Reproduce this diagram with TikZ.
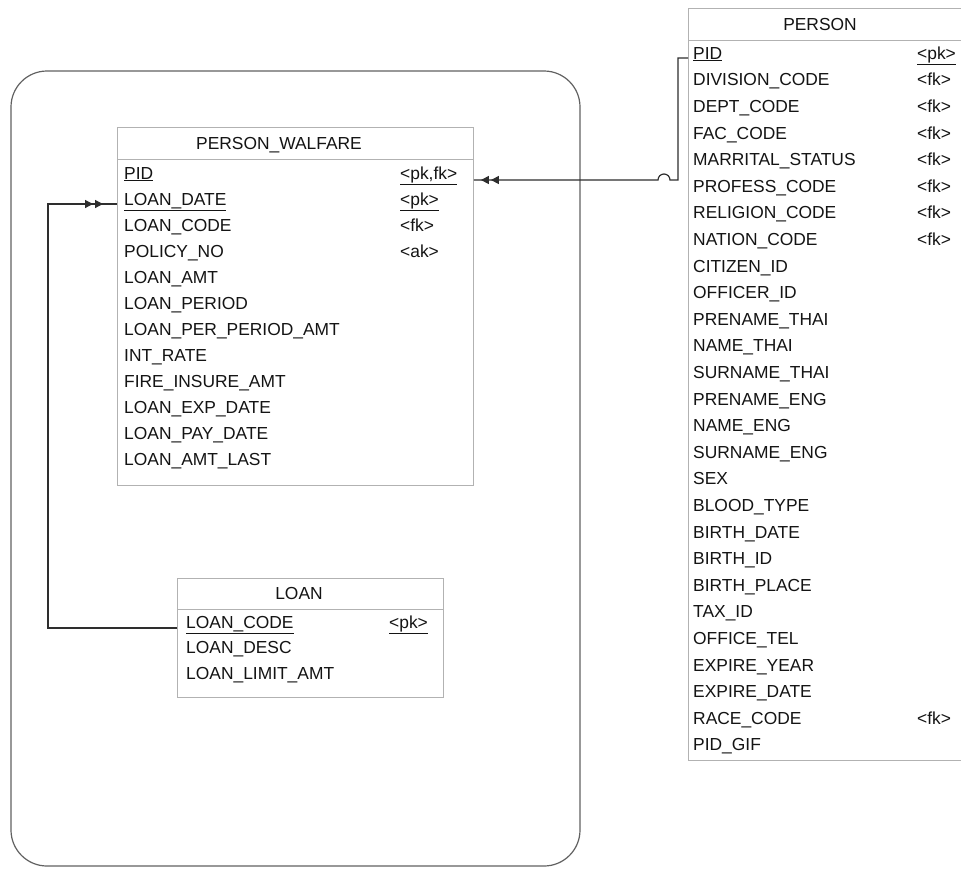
\documentclass[tikz,border=0pt]{standalone}
\usepackage{fontspec}
\setmainfont{Liberation Sans}
\usetikzlibrary{arrows.meta,decorations.markings}
\begin{document}
\begin{tikzpicture}[x=1pt,y=-1pt,
  tbl/.style={draw=black!30, line width=0.9pt, fill=white, inner sep=0pt, anchor=north west},
  tblline/.style={draw=black!30, line width=0.9pt},
  fld/.style={anchor=west, inner sep=0pt, text height=12.4pt, text depth=0pt,
              font=\fontsize{17.4}{20}\selectfont, text=black!92},
  hdr/.style={fld, anchor=center},
  conn/.style={draw=black!82, line width=1.2pt},
  frame/.style={draw=black!62, line width=1.2pt, rounded corners=36pt},
  twotips/.style={postaction={decorate}, decoration={markings,
     mark=at position -#1 with {\arrow{Triangle[length=8pt,width=8pt]}},
     mark=at position -(#1+10pt) with {\arrow{Triangle[length=8pt,width=8pt]}}}}
]
\useasboundingbox (0,0) rectangle (961,868);
\clip (0,0) rectangle (961,868);
\fill[white] (0,0) rectangle (961,868);

% package frame
\draw[frame] (11,71) rectangle (580,866);

% ---------- PERSON_WALFARE ----------
\node[tbl, minimum width=356pt, minimum height=358pt] (pw) at (117,127) {};
\draw[tblline] (117,159) -- (473,159);
\node[hdr] (pwh) at (279,143) {PERSON\_WALFARE};
\foreach \t [count=\i from 0] in {PID,LOAN\_DATE,LOAN\_CODE,POLICY\_NO,LOAN\_AMT,LOAN\_PERIOD,
  LOAN\_PER\_PERIOD\_AMT,INT\_RATE,FIRE\_INSURE\_AMT,LOAN\_EXP\_DATE,LOAN\_PAY\_DATE,LOAN\_AMT\_LAST}
  {\node[fld] (pwr\i) at (124,173+26*\i) {\ifnum\i<2 \underline{\t}\else\t\fi};}
\node[fld] (pwk0) at (400,173) {\underline{<pk,fk>}};
\node[fld] (pwk1) at (400,199) {\underline{<pk>}};
\node[fld] (pwk2) at (400,225) {<fk>};
\node[fld] (pwk3) at (400,251) {<ak>};

% ---------- LOAN ----------
\node[tbl, minimum width=266pt, minimum height=119pt] (loan) at (177,578) {};
\draw[tblline] (177,609) -- (443,609);
\node[hdr] (loanh) at (299,593) {LOAN};
\node[fld] (lr0) at (186,622) {\underline{LOAN\_CODE}};
\node[fld] (lr1) at (186,647.5) {LOAN\_DESC};
\node[fld] (lr2) at (186,673) {LOAN\_LIMIT\_AMT};
\node[fld] (lk0) at (389,622) {\underline{<pk>}};

% ---------- PERSON ----------
\node[tbl, minimum width=300pt, minimum height=752pt] (person) at (688,8) {};
\draw[tblline] (688,40) -- (988,40);
\node[hdr] (ph) at (820,24) {PERSON};
\foreach \t [count=\i from 0] in {PID,DIVISION\_CODE,DEPT\_CODE,FAC\_CODE,MARRITAL\_STATUS,
  PROFESS\_CODE,RELIGION\_CODE,NATION\_CODE,CITIZEN\_ID,OFFICER\_ID,PRENAME\_THAI,NAME\_THAI,
  SURNAME\_THAI,PRENAME\_ENG,NAME\_ENG,SURNAME\_ENG,SEX,BLOOD\_TYPE,BIRTH\_DATE,BIRTH\_ID,
  BIRTH\_PLACE,TAX\_ID,OFFICE\_TEL,EXPIRE\_YEAR,EXPIRE\_DATE,RACE\_CODE,PID\_GIF}
  {\node[fld] (pr\i) at (693,53+26.6*\i) {\ifnum\i=0 \underline{\t}\else\t\fi};}
\node[fld] (pk0) at (917,53) {\underline{<pk>}};
\foreach \i in {1,...,7}
  {\node[fld] (pk\i) at (917,53+26.6*\i) {<fk>};}
\node[fld] (pk25) at (917,53+26.6*25) {<fk>};

% ---------- connectors ----------
\coordinate (ljoin) at (48,628);
\coordinate (ltop) at (48,204);
\draw[conn, twotips=14pt] (loan.west |- ljoin) -- (ljoin) -- (ltop) -- (pw.west |- ltop);

\coordinate (rtop) at (678,58);
\coordinate (rbot) at (678,180);
\draw[conn, twotips=7pt] (person.west |- rtop) -- (rtop) -- (rbot) -- ++(-8,0)
   arc[start angle=0, end angle=-180, radius=6] -- (pw.east |- rbot);
\end{tikzpicture}
\end{document}
